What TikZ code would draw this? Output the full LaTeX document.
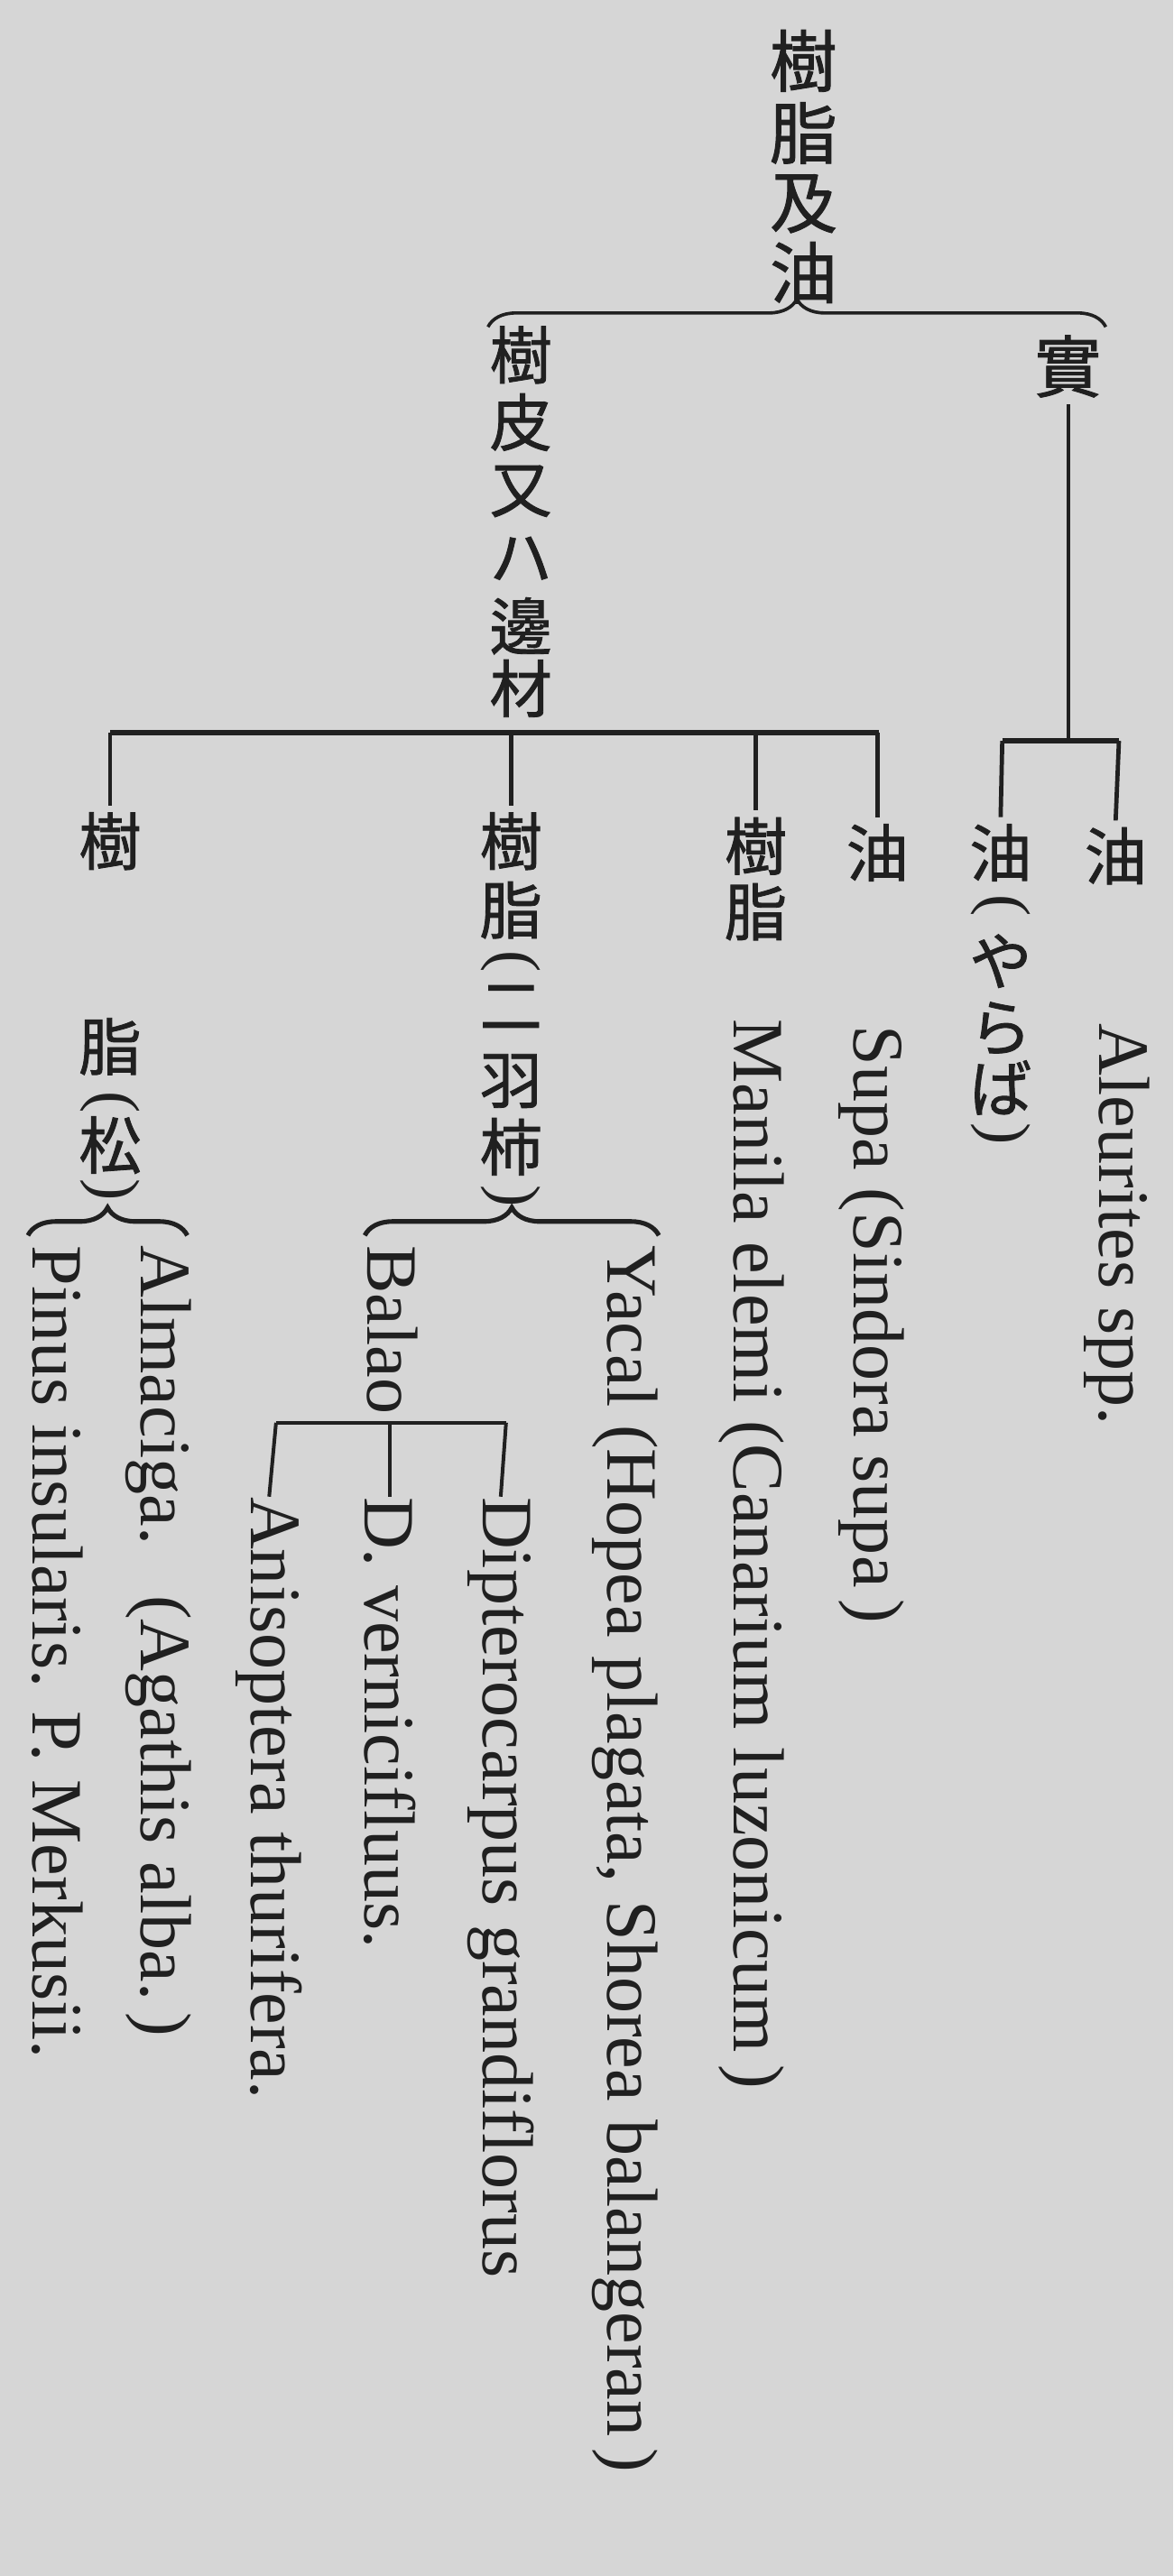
\documentclass[tikz,border=0pt]{standalone}
\usepackage{fontspec}
\setmainfont{Liberation Serif}
\newfontfamily\cjk[FakeBold=1.2]{Noto Sans CJK JP}
\usetikzlibrary{decorations.pathreplacing,calc}
\definecolor{paper}{RGB}{214,214,214}
\definecolor{ink}{RGB}{32,32,32}
\begin{document}
\begin{tikzpicture}[x=1pt,y=-1pt,
  cjbig/.style={font=\cjk\fontsize{41}{41}\selectfont, inner sep=0pt, text=ink},
  cjmid/.style={font=\cjk\fontsize{38}{38}\selectfont, inner sep=0pt, text=ink},
  cjpar/.style={font=\fontsize{40}{40}\selectfont, inner sep=0pt, text=ink, rotate=-90},
  lat/.style={font=\fontsize{44}{44}\selectfont, inner sep=0pt, text=ink, rotate=-90, anchor=base west},
  mybar/.style={draw=ink, line width=3.2pt},
  mystub/.style={draw=ink, line width=2.6pt},
  mythin/.style={draw=ink, line width=2.2pt},
  mybrace/.style={draw=ink, line width=2pt, decorate, decoration={brace, amplitude=17pt}},
  mybracetwo/.style={draw=ink, line width=2.8pt, decorate, decoration={brace, amplitude=17pt}}
]
\fill[paper] (0,0) rectangle (714,1568);
\path[use as bounding box] (0,0) rectangle (714,1568);

% title
\foreach \ch/\yy [count=\i] in {樹/37,脂/81,及/124,油/166}
  \node[cjbig] (ti\i) at (489,\yy) {\ch};

% top brace
\coordinate (tbL) at (297,199);
\coordinate (tbR) at (673,199);
\draw[mybrace] (tbL) -- (tbR);

% bark / sapwood
\foreach \ch/\yy [count=\i] in {樹/216,皮/257,又/299,ハ/340,邊/381,材/419}
  \node[cjmid] (bk\i) at (317,\yy) {\ch};

% fruit
\node[cjbig] (mi) at (650,223) {實};

% bark branch bar
\coordinate (bb1) at (67,446);
\coordinate (bb2) at (535,446);
\draw[mybar] (bb1) -- (bb2);

% children of bark
\node[cjmid] (ka) at (67,512) {樹};
\node[cjmid] (kb) at (67,637) {脂};
\node[cjpar] (kc) at (67,671) {(};
\node[cjmid] (kd) at (67,697) {松};
\node[cjpar] (ke) at (67,724) {)};

\node[cjmid] (kk1) at (311,512) {樹};
\node[cjmid] (kk2) at (311,554) {脂};
\node[cjpar] (kk3) at (311,585) {(};
\node[cjmid] (kk4) at (311,613) {二};
\node[cjmid] (kk5) at (311,658) {羽};
\node[cjmid] (kk6) at (311,698) {柿};
\node[cjpar] (kk7) at (311,728) {)};

\node[cjmid] (ja) at (460,515) {樹};
\node[cjmid] (jb) at (460,555) {脂};
\node[cjmid] (yu) at (534,519) {油};

\draw[mystub] (ka.north |- bb1) -- ($(ka.north)+(0,-4)$);
\draw[mystub] (kk1.north |- bb1) -- ($(kk1.north)+(0,-4)$);
\draw[mystub] (ja.north |- bb1) -- ($(ja.north)+(0,-4)$);
\draw[mystub] (yu.north |- bb1) -- ($(yu.north)+(0,-4)$);

% fruit branch
\coordinate (rb1) at (610,451);
\coordinate (rb2) at (681,451);
\draw[mythin] (mi.south) ++(0,4) -- (mi.south |- rb1);
\draw[mybar] (rb1) -- (rb2);

\node[cjmid] (ya1) at (609,519) {油};
\node[cjpar] (ya2) at (609,551) {(};
\node[cjmid] (ya3) at (609,585) {や};
\node[cjmid] (ya4) at (609,626) {ら};
\node[cjmid] (ya5) at (609,662) {ば};
\node[cjpar] (ya6) at (609,690) {)};
\node[cjmid] (yr) at (679,521) {油};

\draw[mystub] (rb1) -- ($(ya1.north)+(0,-4)$);
\draw[mystub] (rb2) -- ($(yr.north)+(0,-4)$);

% latin columns
\node[lat] (ale) at (669,623) {Aleurites spp.};
\node[lat] (sup) at (520,624) {Supa (Sindora supa\,)};
\node[lat] (man) at (447,620) {Manila elemi (Canarium luzonicum\,)};

% resin (dipterocarp) brace
\coordinate (lbA) at (222,752);
\coordinate (lbB) at (401,752);
\draw[mybracetwo] (lbA) -- (lbB);

% pine brace
\coordinate (pbA) at (17,752);
\coordinate (pbB) at (114,752);
\draw[mybracetwo] (pbA) -- (pbB);

\node[lat] (yac) at (370,758) {Yacal (Hopea plagata, Shorea balangeran\,)};
\node[lat] (bal) at (224,758) {Balao};

% balao branch
\coordinate (ba1) at (168,866);
\coordinate (ba2) at (308,866);
\draw[mythin] (ba1) -- (ba2);

\node[lat] (dip) at (294,911) {Dipterocarpus grandiflorus};
\node[lat] (dve) at (222,911) {D. vernicifluus.};
\node[lat] (ani) at (153,911) {Anisoptera thurifera.};

\draw[mythin] (ba2) -- (dip.west);
\draw[mythin] (dve.west |- ba1) -- (dve.west);
\draw[mythin] (ba1) -- (ani.west);

\node[lat] (alm) at (86,758) {Almaciga.\hspace{0.7em}(Agathis alba.\,)};
\node[lat] (pin) at (20,758) {Pinus insularis. P. Merkusii.};
\end{tikzpicture}
\end{document}
